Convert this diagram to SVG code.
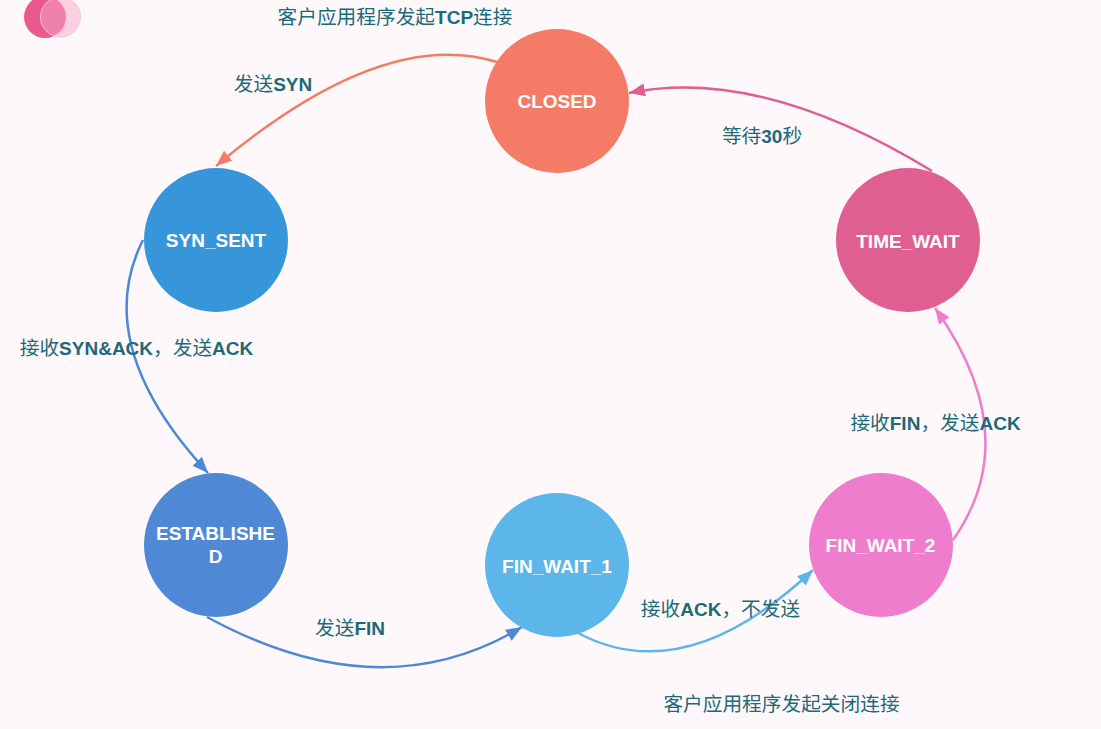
<svg xmlns="http://www.w3.org/2000/svg" width="1101" height="729" viewBox="0 0 1101 729">
<style>
.node-label{font-family:"Liberation Sans",Arial,sans-serif;font-weight:bold;font-size:19px;fill:#ffffff;text-anchor:middle}
.edge-label{font-family:"Liberation Sans","Noto Sans CJK SC",sans-serif;font-weight:bold;font-size:19px;fill:#1d6a78;text-anchor:middle}
.cjk{font-family:"Noto Sans CJK SC",sans-serif;font-weight:normal;font-size:19.7px}
.edge{fill:none;stroke-width:2.5}
</style>
<defs>
<marker id="a-closed" viewBox="0 0 16 13" refX="16" refY="6.5" markerWidth="16" markerHeight="13" markerUnits="userSpaceOnUse" orient="auto"><path d="M0,0L16,6.5L0,13z" fill="#f47c67"/></marker>
<marker id="a-syn" viewBox="0 0 16 13" refX="16" refY="6.5" markerWidth="16" markerHeight="13" markerUnits="userSpaceOnUse" orient="auto"><path d="M0,0L16,6.5L0,13z" fill="#4a89d6"/></marker>
<marker id="a-est" viewBox="0 0 16 13" refX="16" refY="6.5" markerWidth="16" markerHeight="13" markerUnits="userSpaceOnUse" orient="auto"><path d="M0,0L16,6.5L0,13z" fill="#4f89d6"/></marker>
<marker id="a-fw1" viewBox="0 0 16 13" refX="16" refY="6.5" markerWidth="16" markerHeight="13" markerUnits="userSpaceOnUse" orient="auto"><path d="M0,0L16,6.5L0,13z" fill="#5cb6e9"/></marker>
<marker id="a-fw2" viewBox="0 0 16 13" refX="16" refY="6.5" markerWidth="16" markerHeight="13" markerUnits="userSpaceOnUse" orient="auto"><path d="M0,0L16,6.5L0,13z" fill="#ee7dcd"/></marker>
<marker id="a-tw" viewBox="0 0 16 13" refX="16" refY="6.5" markerWidth="16" markerHeight="13" markerUnits="userSpaceOnUse" orient="auto"><path d="M0,0L16,6.5L0,13z" fill="#e05f91"/></marker>
</defs>
<rect width="1101" height="729" fill="#fef8fa"/>
<g id="logo">
<circle cx="45" cy="17" r="21" fill="#e85a8c"/>
<circle cx="60.5" cy="17" r="20" fill="#f5a8c8" fill-opacity="0.5" stroke="#f6c3d8" stroke-width="1"/>
</g>
<g id="connectors">
<path class="edge" d="M497,62 Q382,26 216,166" stroke="#f47c67" marker-end="url(#a-closed)"/>
<path class="edge" d="M143,240 Q90,345 208,473" stroke="#4a89d6" marker-end="url(#a-syn)"/>
<path class="edge" d="M207,617 Q381,712 522,627" stroke="#4f89d6" marker-end="url(#a-est)"/>
<path class="edge" d="M578,633 Q685,690 813,570" stroke="#5cb6e9" marker-end="url(#a-fw1)"/>
<path class="edge" d="M953,540 Q1026,436 935,308" stroke="#ee7dcd" marker-end="url(#a-fw2)"/>
<path class="edge" d="M932,171 Q760,66 629,93" stroke="#e05f91" marker-end="url(#a-tw)"/>
</g>
<g id="edge-labels">
<text class="edge-label" x="395" y="24"><tspan class="cjk">客户应用程序发起</tspan>TCP<tspan class="cjk">连接</tspan></text>
<text class="edge-label" x="273" y="91"><tspan class="cjk">发送</tspan>SYN</text>
<text class="edge-label" x="762" y="143"><tspan class="cjk">等待</tspan>30<tspan class="cjk">秒</tspan></text>
<text class="edge-label" x="136.5" y="355"><tspan class="cjk">接收</tspan>SYN&amp;ACK<tspan class="cjk">，发送</tspan>ACK</text>
<text class="edge-label" x="935.5" y="430"><tspan class="cjk">接收</tspan>FIN<tspan class="cjk">，发送</tspan>ACK</text>
<text class="edge-label" x="350" y="635"><tspan class="cjk">发送</tspan>FIN</text>
<text class="edge-label" x="720.5" y="616"><tspan class="cjk">接收</tspan>ACK<tspan class="cjk">，不发送</tspan></text>
<text class="edge-label" x="781.5" y="711"><tspan class="cjk">客户应用程序发起关闭连接</tspan></text>
</g>
<g id="node-closed">
<circle cx="557" cy="101" r="72" fill="#f47c67"/>
<text class="node-label" x="557" y="108">CLOSED</text>
</g>
<g id="node-syn-sent">
<circle cx="216" cy="240" r="72" fill="#3796d9"/>
<text class="node-label" x="216" y="247">SYN_SENT</text>
</g>
<g id="node-established">
<circle cx="216" cy="545" r="72" fill="#4f89d6"/>
<text class="node-label" x="215.5" y="540">ESTABLISHE</text>
<text class="node-label" x="215.5" y="563">D</text>
</g>
<g id="node-fin-wait-1">
<circle cx="557" cy="565" r="72" fill="#5cb6e9"/>
<text class="node-label" x="557" y="573">FIN_WAIT_1</text>
</g>
<g id="node-fin-wait-2">
<circle cx="881" cy="545" r="72" fill="#ee7dcd"/>
<text class="node-label" x="880.5" y="552">FIN_WAIT_2</text>
</g>
<g id="node-time-wait">
<circle cx="908" cy="240" r="72" fill="#e05f91"/>
<text class="node-label" x="908" y="248">TIME_WAIT</text>
</g>
</svg>
